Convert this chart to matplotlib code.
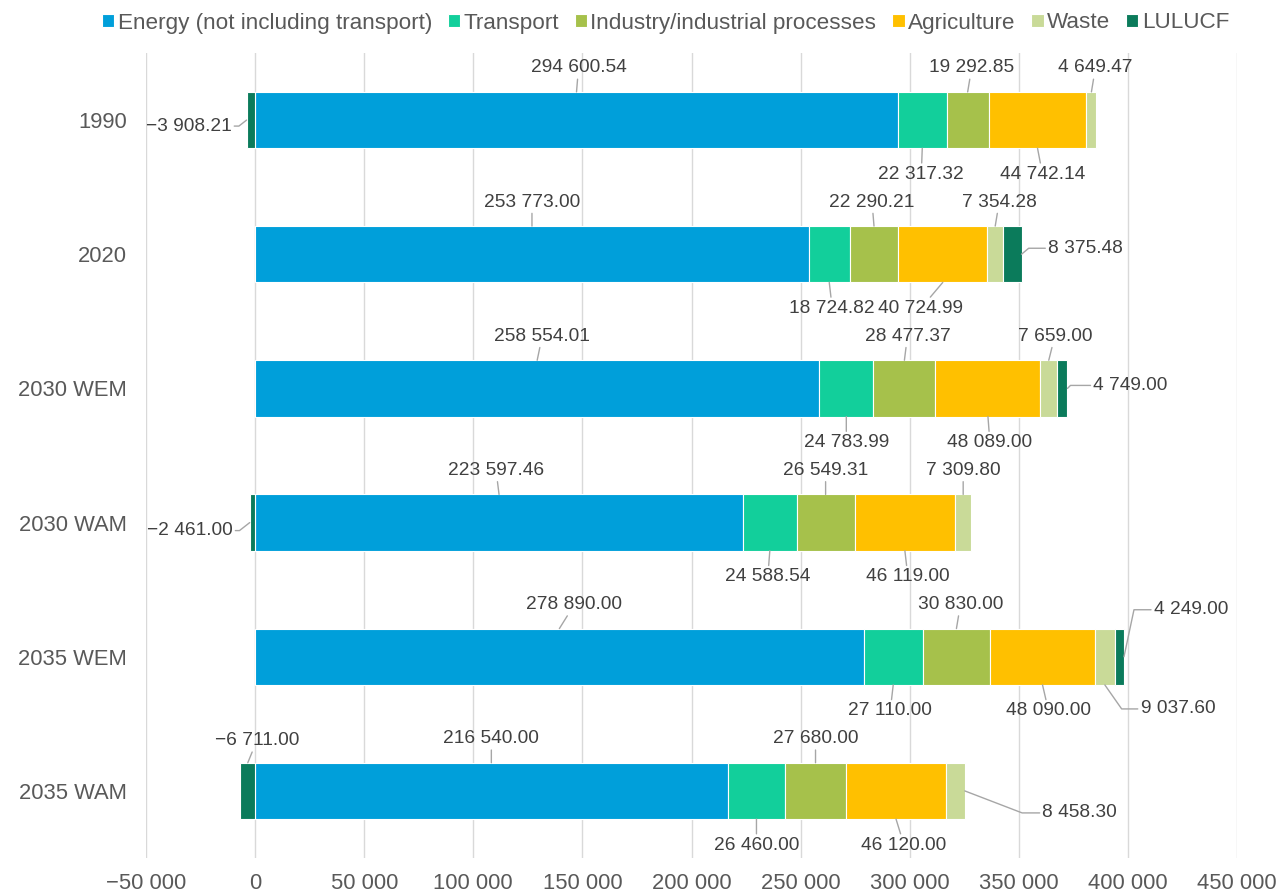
import matplotlib
matplotlib.use("Agg")
import matplotlib.pyplot as plt
import numpy as np
from matplotlib.ticker import FixedLocator, FuncFormatter

plt.rcParams['font.family'] = ['Liberation Sans', 'DejaVu Sans']

# ---------------- data ----------------
categories = ["1990", "2020", "2030 WEM", "2030 WAM", "2035 WEM", "2035 WAM"]
series_names = ["Energy (not including transport)", "Transport",
                "Industry/industrial processes", "Agriculture", "Waste", "LULUCF"]
energy = [294600.54, 253773.00, 258554.01, 223597.46, 278890.00, 216540.00]
transport = [22317.32, 18724.82, 24783.99, 24588.54, 27110.00, 26460.00]
industry = [19292.85, 22290.21, 28477.37, 26549.31, 30830.00, 27680.00]
agriculture = [44742.14, 40724.99, 48089.00, 46119.00, 48090.00, 46120.00]
waste = [4649.47, 7354.28, 7659.00, 7309.80, 9037.60, 8458.30]
lulucf = [-3908.21, 8375.48, 4749.00, -2461.00, 4249.00, -6711.00]
x_ticks = [-50000, 0, 50000, 100000, 150000, 200000, 250000, 300000, 350000, 400000, 450000]

# ---------------- style ----------------
colors = ["#009FDA", "#12CF9B", "#A6C14B", "#FFC000", "#C9DA98", "#0B7B5B"]
text_color = "#595959"
grid_color = "#D9D9D9"
leader_color = "#A6A6A6"

# label layout: (anchor, dx_px, dy_px, angleB or None)
label_layout = [
    [("top", 2, 24, None), ("bottom", -1, -26, None), ("top", 4, 24, None),
     ("bottom", 5, -26, None), ("top", 4, 24, None), ("left", -58, -6, -142)],
    [("top", 0, 24, None), ("bottom", 3, -26, None), ("top", -2, 24, None),
     ("bottom", -22, -26, None), ("top", 4, 24, None), ("right", 64, 6, 40)],
    [("top", 5, 24, None), ("bottom", 0, -26, None), ("top", 3, 24, None),
     ("bottom", 2, -26, None), ("top", 6, 24, None), ("right", 63, 3, 45)],
    [("top", -3, 24, None), ("bottom", -2, -26, None), ("top", 0, 24, None),
     ("bottom", 3, -26, None), ("top", 0, 24, None), ("left", -60, -8, -142)],
    [("top", 15, 24, None), ("bottom", -3, -26, None), ("top", 4, 24, None),
     ("bottom", 6, -26, None), ("bottom", 73, -24, -55), ("right", 67, 47, 78)],
    [("top", 0, 24, None), ("bottom", 0, -26, None), ("top", 0, 24, None),
     ("bottom", 8, -26, None), ("right", 115, -22, -21), ("top", 9, 22, None)],
]

W, H = 1281, 893
fig = plt.figure(figsize=(W / 100, H / 100), dpi=100)
ax = fig.add_axes([146 / W, 35 / H, 1091 / W, 805 / H])

y = np.arange(len(categories))
bar_h = 0.42
all_series = [energy, transport, industry, agriculture, waste, lulucf]

pos_left = np.zeros(len(categories))
neg_left = np.zeros(len(categories))
segments = []
for vals, col, name in zip(all_series, colors, series_names):
    v = np.array(vals, dtype=float)
    left = np.where(v >= 0, pos_left, neg_left)
    ax.barh(y, v, left=left, height=bar_h, color=col, edgecolor="white",
            linewidth=0.8, label=name, zorder=3)
    segments.append((left.copy(), (left + v).copy()))
    pos_left += np.where(v >= 0, v, 0)
    neg_left += np.where(v < 0, v, 0)


def fmt_num(v, dec):
    s = f"{abs(v):,.{dec}f}".replace(",", " ")
    return ("\u2212" + s) if v < 0 else s


for i in range(len(categories)):
    for j, vals in enumerate(all_series):
        a, b = segments[j][0][i], segments[j][1][i]
        lo, hi = min(a, b), max(a, b)
        anchor, dx, dy, angB = label_layout[i][j]
        if anchor == "top":
            xy = ((lo + hi) / 2, y[i] - bar_h / 2)
        elif anchor == "bottom":
            xy = ((lo + hi) / 2, y[i] + bar_h / 2)
        elif anchor == "right":
            xy = (hi, y[i])
        else:
            xy = (lo, y[i])
        cs = "arc3" if angB is None else f"angle,angleA=0,angleB={angB},rad=0"
        ax.annotate(fmt_num(vals[i], 2), xy=xy, xytext=(dx, dy),
                    textcoords="offset pixels", ha="center", va="center",
                    fontsize=13.8, color="#404040", zorder=5,
                    arrowprops=dict(arrowstyle="-", color=leader_color, lw=1,
                                    shrinkA=0, shrinkB=0, connectionstyle=cs))

ax.set_xlim(-50000, 450000)
ax.set_ylim(len(categories) - 0.5, -0.5)
ax.xaxis.set_major_locator(FixedLocator(x_ticks))
ax.xaxis.set_major_formatter(FuncFormatter(lambda v, p: fmt_num(v, 0)))
ax.set_yticks(y)
ax.set_yticklabels(categories)
ax.tick_params(axis="x", length=0, labelsize=15.8, colors=text_color, pad=10.5)
ax.tick_params(axis="y", length=0, labelsize=15.8, colors=text_color, pad=13.5)
ax.grid(axis="x", color=grid_color, linewidth=1, zorder=0)
ax.set_axisbelow(True)
for s in ax.spines.values():
    s.set_visible(False)

leg = fig.legend(loc="center", bbox_to_anchor=(665.5 / W, 1 - 23 / H), ncol=6,
                 frameon=False, fontsize=16.2, handlelength=0.55, handleheight=0.55,
                 handletextpad=0.15, columnspacing=0.7, borderaxespad=0,
                 borderpad=0)
for t in leg.get_texts():
    t.set_color(text_color)

fig.savefig("out.png", dpi=100)
